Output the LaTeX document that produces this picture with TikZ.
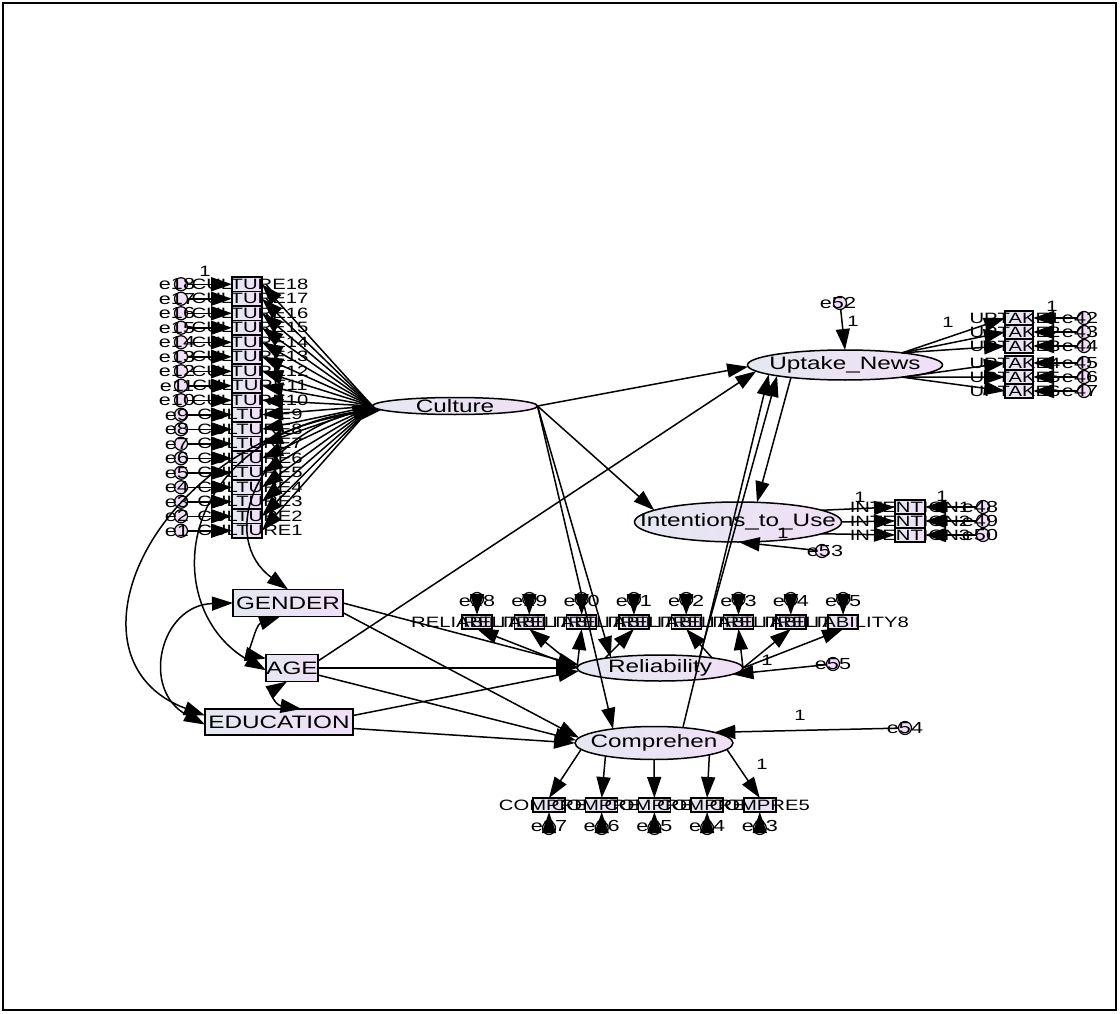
\documentclass[tikz,border=0pt]{standalone}
\usepackage{fontspec}
\setmainfont{Liberation Sans}
\newfontfamily\amos[FakeStretch=1.35]{Liberation Sans}
\usetikzlibrary{shapes.geometric,arrows.meta}
\definecolor{latA}{RGB}{228,232,241}
\definecolor{latB}{RGB}{241,223,247}
\begin{document}
\begin{tikzpicture}[x=1pt,y=-1pt,
  lat/.style={ellipse, draw, line width=1.5pt, left color=latA, right color=latB, inner sep=0pt, outer sep=0pt},
  obs/.style={rectangle, draw, line width=1.4pt, left color=latA, right color=latB, inner sep=0pt, outer sep=0pt},
  errc/.style={circle, draw, line width=1.2pt, fill=latB, minimum size=13pt, inner sep=0pt, outer sep=0pt},
  bigt/.style={font=\amos\fontsize{18}{18}\selectfont, inner sep=0pt},
  smt/.style={font=\amos\fontsize{15}{15}\selectfont, inner sep=0pt},
  elab/.style={font=\amos\fontsize{16}{16}\selectfont, inner sep=0pt},
  pth/.style={-{Triangle[length=21pt,width=14pt]}, line width=1.5pt},
  cov/.style={{Triangle[length=21pt,width=14pt]}-{Triangle[length=21pt,width=14pt]}, line width=1.5pt}]
\useasboundingbox (0,0) rectangle (1120,1014);
\fill[white] (0,0) rectangle (1120,1014);
\draw[line width=1.8pt] (3,3) rectangle (1116,1010);

% latent variables
\node[lat, minimum width=165pt, minimum height=17pt] (cul) at (455,406) {};
\node[bigt] (cult) at (cul) {Culture};
\node[lat, minimum width=195pt, minimum height=30pt] (upt) at (845,365) {};
\node[bigt] (uptt) at (upt) {Uptake\_News};
\node[lat, minimum width=207pt, minimum height=40pt] (int) at (738,522) {};
\node[bigt] (intt) at (int) {Intentions\_to\_Use};
\node[lat, minimum width=166pt, minimum height=26pt] (rel) at (660,668) {};
\node[bigt] (relt) at (rel) {Reliability};
\node[lat, minimum width=158pt, minimum height=33pt] (com) at (654,743) {};
\node[bigt] (comt) at (com) {Comprehen};

% observed exogenous
\node[obs, minimum width=110pt, minimum height=27pt] (gen) at (288,603) {};
\node[bigt] (gent) at (gen) {GENDER};
\node[obs, minimum width=52pt, minimum height=27pt] (age) at (292,668) {};
\node[bigt] (aget) at (age) {AGE};
\node[obs, minimum width=148pt, minimum height=26pt] (edu) at (279,722) {};
\node[bigt] (edut) at (edu) {EDUCATION};

% culture indicators
\foreach \i in {1,...,18}{
  \pgfmathsetmacro\yy{277+14.5*(18-\i)+7.25}
  \node[obs, minimum width=30pt, minimum height=14.5pt, line width=1.1pt] (c\i) at (247,\yy) {};
  \node[smt] (cl\i) at (250,\yy) {CULTURE\i};
  \node[errc] (ec\i) at (181,\yy) {};
  \node[elab] (ecl\i) at (177,\yy) {e\i};
}

% uptake indicators
\foreach \i/\yy in {1/318,2/332,3/346,4/363,5/377,6/391}{
  \pgfmathtruncatemacro\en{41+\i}
  \node[obs, minimum width=28pt, minimum height=14pt] (u\i) at (1019,\yy) {};
  \node[smt] (ul\i) at (1015,\yy) {UPTAKE\i};
  \node[errc] (eu\i) at (1084,\yy) {};
  \node[elab] (eul\i) at (1080,\yy) {e\en};
}

% intention indicators
\foreach \i/\yy in {1/507,2/521,3/535}{
  \pgfmathtruncatemacro\en{47+\i}
  \node[obs, minimum width=30pt, minimum height=14pt] (n\i) at (910,\yy) {};
  \node[smt] (nl\i) at (910,\yy) {INTENTION\i};
  \node[errc] (en\i) at (983,\yy) {};
  \node[elab] (enl\i) at (980,\yy) {e\en};
}

% reliability indicators
\foreach \i in {1,...,8}{
  \pgfmathsetmacro\xx{477+52.3*(\i-1)}
  \pgfmathtruncatemacro\en{27+\i}
  \node[obs, minimum width=30pt, minimum height=14pt] (r\i) at (\xx,622) {};
  \node[smt] (rl\i) at (\xx,622) {RELIABILITY\i};
  \node[errc] (er\i) at (\xx,599) {};
  \node[elab] (erl\i) at (\xx,601) {e\en};
}

% comprehension indicators
\foreach \i in {1,...,5}{
  \pgfmathsetmacro\xx{549+52.7*(\i-1)}
  \pgfmathtruncatemacro\en{28-\i}
  \node[obs, minimum width=32pt, minimum height=14pt] (p\i) at (\xx,805) {};
  \node[smt] (pl\i) at (\xx,805) {COMPRE\i};
  \node[errc] (ep\i) at (\xx,828) {};
  \node[elab] (epl\i) at (\xx,826) {e\en};
}

% disturbances
\node[errc] (d52) at (840,303) {};
\node[elab] (d52l) at (838,303) {e52};
\node[errc] (d53) at (822,551) {};
\node[elab] (d53l) at (825,551) {e53};
\node[errc] (d54) at (905,728) {};
\node[elab] (d54l) at (905,728) {e54};
\node[errc] (d55) at (833,664) {};
\node[elab] (d55l) at (833,664) {e55};

% connectors: measurement
\foreach \i in {1,...,18}{
  \draw[pth] (ec\i) -- (c\i);
  \draw[pth] (cul.west) -- (c\i.east);
}
\foreach \i in {1,2,3}{ \draw[pth] (upt.12) -- (u\i.west); }
\foreach \i in {4,5,6}{ \draw[pth] (upt.348) -- (u\i.west); }
\foreach \i in {1,...,6}{ \draw[pth] (eu\i) -- (u\i); }
\draw[pth] (int.8) -- (n1.west);
\draw[pth] (int.0) -- (n2.west);
\draw[pth] (int.352) -- (n3.west);
\foreach \i in {1,2,3}{ \draw[pth] (en\i) -- (n\i); }
\foreach \i in {1,...,8}{ \draw[pth] (er\i) -- (r\i); }
\draw[pth] (rel.west) -- (r1.south);
\draw[pth] (rel.west) -- (r2.south);
\draw[pth] (rel.west) -- (r3.south);
\draw[pth] (rel.170) -- (r4.south);
\draw[pth] (rel.11) -- (r5.south);
\draw[pth] (rel.east) -- (r6.south);
\draw[pth] (rel.east) -- (r7.south);
\draw[pth] (rel.east) -- (r8.south);
\foreach \i in {1,...,5}{ \draw[pth] (ep\i) -- (p\i); }
\draw[pth] (com.185) -- (p1.north);
\draw[pth] (com.195) -- (p2.north);
\draw[pth] (com.270) -- (p3.north);
\draw[pth] (com.348) -- (p4.north);
\draw[pth] (com.355) -- (p5.north);

% disturbance paths
\draw[pth] (d52) -- (upt.north);
\draw[pth] (d53) -- (int.272);
\draw[pth] (d54) -- (com.10);
\draw[pth] (d55) -- (rel.355);

% structural paths
\draw[pth] (cul.east) -- (upt.181);
\draw[pth] (cul.east) -- (int.172);
\draw[pth] (cul.east) -- (rel.168);
\draw[pth] (cul.east) -- (com.161);
\draw[pth] (age.15) -- (upt.184);
\draw[pth] (com.28) -- (upt.187);
\draw[pth] (rel.16) -- (upt.189);
\draw[pth] (upt.193) -- (int.46);
\draw[pth] (gen.east) -- (rel.178);
\draw[pth] (gen.-10) -- (com.176);
\draw[pth] (age.east) -- (rel.180);
\draw[pth] (age.-15) -- (com.178);
\draw[pth] (edu.5) -- (rel.182);
\draw[pth] (edu.-5) -- (com.180);

% covariances
\draw[cov] (cul.181) .. controls (250,440) and (220,540) .. (gen.north);
\draw[cov] (cul.182) .. controls (170,440) and (160,610) .. (age.185);
\draw[cov] (cul.183) .. controls (150,440) and (55,660) .. (edu.175);
\draw[cov] (gen.west) .. controls (160,605) and (140,690) .. (edu.182);
\draw[cov] (gen.-120) .. controls (255,625) and (250,655) .. (age.160);
\draw[cov] (age.-110) .. controls (270,692) and (275,705) .. (edu.30);

% fixed weights
\node[smt] (w1) at (205,271) {1};
\node[smt] (w2) at (853,321) {1};
\node[smt] (w3) at (948,322) {1};
\node[smt] (w4) at (1052,306) {1};
\node[smt] (w5) at (860,497) {1};
\node[smt] (w6) at (942,496) {1};
\node[smt] (w7) at (783,533) {1};
\node[smt] (w8) at (767,660) {1};
\node[smt] (w9) at (800,715) {1};
\node[smt] (w10) at (762,764) {1};
\end{tikzpicture}
\end{document}
